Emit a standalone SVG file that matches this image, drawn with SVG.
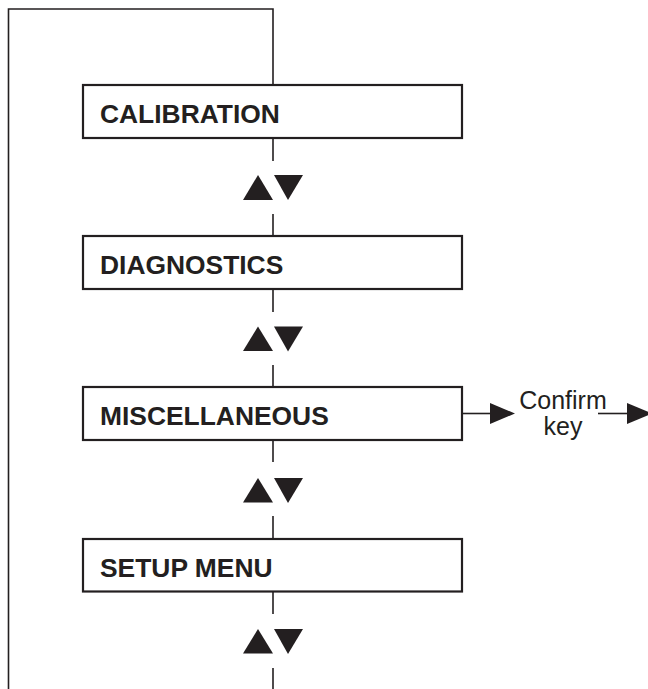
<svg xmlns="http://www.w3.org/2000/svg" width="648" height="689" viewBox="0 0 648 689">
  <style>
    .box { fill: #ffffff; stroke: #231f20; stroke-width: 2.2; }
    .lbl { font-family: "Liberation Sans", Arial, sans-serif; font-weight: bold; font-size: 26.4px; fill: #231f20; }
    .txt { font-family: "Liberation Sans", Arial, sans-serif; font-size: 25px; fill: #231f20; }
    .ln { fill: none; stroke: #231f20; stroke-width: 1.6; }
    .tri { fill: #231f20; }
  </style>
  <rect width="648" height="689" fill="#ffffff"/>
  <g id="connectors">
    <polyline class="ln" points="8.5,689 8.5,9 273,9 273,85"/>
    <line class="ln" x1="273" y1="138" x2="273" y2="161"/>
    <line class="ln" x1="273" y1="214" x2="273" y2="236"/>
    <line class="ln" x1="273" y1="289" x2="273" y2="312"/>
    <line class="ln" x1="273" y1="365" x2="273" y2="387"/>
    <line class="ln" x1="273" y1="440" x2="273" y2="462"/>
    <line class="ln" x1="273" y1="516" x2="273" y2="539"/>
    <line class="ln" x1="273" y1="591" x2="273" y2="614"/>
    <line class="ln" x1="273" y1="668" x2="273" y2="689"/>
    <line class="ln" x1="462" y1="413.5" x2="492" y2="413.5"/>
    <polygon class="tri" points="490,403 515,413.5 490,424"/>
    <line class="ln" x1="598" y1="413.5" x2="629" y2="413.5"/>
    <polygon class="tri" points="627,403 652,413.5 627,424"/>
  </g>
  <g id="updown1">
    <polygon class="tri" points="243,200 258,175 273,200"/>
    <polygon class="tri" points="274,175 303,175 288,200"/>
  </g>
  <g id="updown2">
    <polygon class="tri" points="243,351 258,326.5 273,351"/>
    <polygon class="tri" points="274,326.5 303,326.5 288,351.5"/>
  </g>
  <g id="updown3">
    <polygon class="tri" points="243,502.5 258,478 273,502.5"/>
    <polygon class="tri" points="274,478 303,478 288,503"/>
  </g>
  <g id="updown4">
    <polygon class="tri" points="243,653.5 258,629 273,653.5"/>
    <polygon class="tri" points="274,629 303,629 288,654"/>
  </g>
  <g id="calibration">
    <rect class="box" x="83" y="85" width="379" height="53"/>
    <text class="lbl" x="100" y="122.5">CALIBRATION</text>
  </g>
  <g id="diagnostics">
    <rect class="box" x="83" y="236" width="379" height="53"/>
    <text class="lbl" x="100" y="273.5">DIAGNOSTICS</text>
  </g>
  <g id="miscellaneous">
    <rect class="box" x="83" y="387" width="379" height="53"/>
    <text class="lbl" x="100" y="424.5">MISCELLANEOUS</text>
  </g>
  <g id="setup">
    <rect class="box" x="83" y="539" width="379" height="52.5"/>
    <text class="lbl" x="100" y="576.5">SETUP MENU</text>
  </g>
  <g id="confirm">
    <text class="txt" x="563" y="408.5" text-anchor="middle">Confirm</text>
    <text class="txt" x="563" y="435" text-anchor="middle">key</text>
  </g>
</svg>
